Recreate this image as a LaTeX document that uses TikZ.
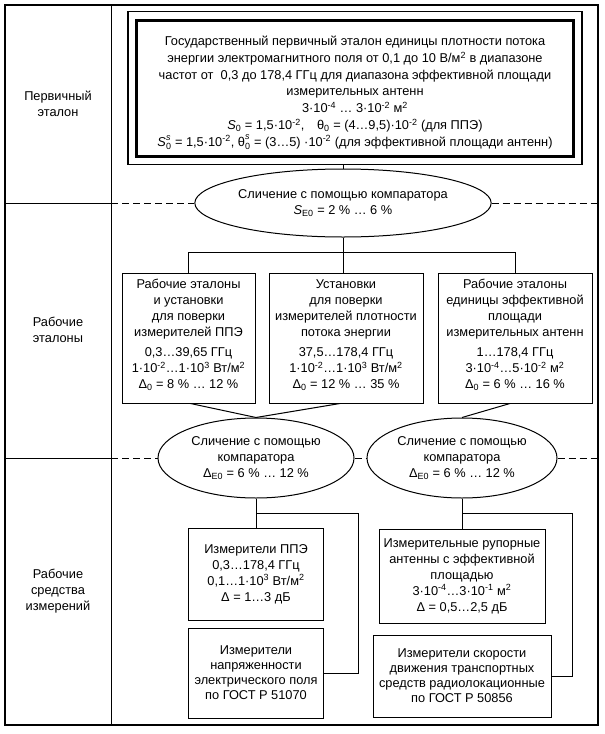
\documentclass[tikz,border=0pt]{standalone}
\usepackage{amsmath}
\usepackage{fontspec}
\setmainfont{Liberation Sans}
\usetikzlibrary{shapes.geometric}

\newcommand{\ten}[1]{10\textsuperscript{#1}}
\newcommand{\tailgap}{\rule[-8pt]{0pt}{8pt}}

\begin{document}
\begin{tikzpicture}[x=1pt, y=-1pt, line width=1pt,
    font=\fontsize{12.8}{16}\selectfont,
    unit/.style={draw, align=center, inner sep=1pt},
    cmp/.style={draw, ellipse, align=center, inner sep=0pt},
    level/.style={align=center},
    sepline/.style={dash pattern=on 7pt off 4pt}]
    \useasboundingbox (0,0) rectangle (605,734);

    % frame and column of levels
    \coordinate (frameNW) at (5,5);
    \coordinate (frameSE) at (598,725);
    \coordinate (colL) at (111,5);
    \draw[line width=1.2pt] (frameNW) rectangle (frameSE);
    \draw (colL) -- (colL |- frameSE);
    \node[level] (lvlP) at (58,104) {Первичный\\эталон};
    \node[level] (lvlW) at (58,330) {Рабочие\\эталоны};
    \node[level] (lvlM) at (58,591) {Рабочие\\средства\\измерений};

    % primary standard
    \node[unit, line width=3pt, minimum width=437, minimum height=136,
          font=\fontsize{12.8}{16.7}\selectfont] (prim) at (355,88)
        {\rule{0pt}{19pt}Государственный первичный эталон единицы плотности потока\\
         энергии электромагнитного поля от 0,1 до 10 В/м\textsuperscript{2} в диапазоне\\
         частот от\ \ 0,3 до 178,4 ГГц для диапазона эффективной площади\\
         измерительных антенн\\
         3·\ten{-4} … 3·\ten{-2} м\textsuperscript{2}\\
         \textit{S}\textsubscript{0} = 1,5·\ten{-2},\quad θ\textsubscript{0} = (4…9,5)·\ten{-2} (для ППЭ)\\
         $\textit{S}_{\text{0}}^{\textit{s}}$ = 1,5·\ten{-2}, $\text{θ}_{\text{0}}^{\textit{s}}$ = (3…5) ·\ten{-2} (для эффективной площади антенн)};
    \draw[line width=1.2pt] ([shift={(-7,-7)}]prim.north west) rectangle ([shift={(7,7)}]prim.south east);
    \coordinate (primS) at ([shift={(0,7)}]prim.south);

    % comparators
    \node[cmp, minimum width=280, minimum height=68] (cmpS) at (343,203)
        {Сличение с помощью компаратора\\\textit{S}\textsubscript{E0} = 2 \% … 6 \%};
    \node[cmp, minimum width=196, minimum height=80] (cmpL) at (256,458)
        {Сличение с помощью\\компаратора\\Δ\textsubscript{E0} = 6 \% … 12 \%};
    \node[cmp, minimum width=190, minimum height=80] (cmpR) at (462,458)
        {Сличение с помощью\\компаратора\\Δ\textsubscript{E0} = 6 \% … 12 \%};

    % working standards
    \node[unit, minimum width=133, minimum height=130] (wsA) at (188.5,338)
        {Рабочие эталоны\\и установки\\для поверки\\измерителей ППЭ\\[4pt]
         0,3…39,65 ГГц\\1·\ten{-2}…1·\ten{3} Вт/м\textsuperscript{2}\\
         Δ\textsubscript{0} = 8 \% … 12 \%\tailgap};
    \node[unit, minimum width=154, minimum height=130] (wsB) at (346,338)
        {Установки\\для поверки\\измерителей плотности\\потока энергии\\[4pt]
         37,5…178,4 ГГц\\1·\ten{-2}…1·\ten{3} Вт/м\textsuperscript{2}\\
         Δ\textsubscript{0} = 12 \% … 35 \%\tailgap};
    \node[unit, minimum width=154, minimum height=130] (wsC) at (515,338)
        {Рабочие эталоны\\единицы эффективной\\площади\\измерительных антенн\\[4pt]
         1…178,4 ГГц\\3·\ten{-4}…5·\ten{-2} м\textsuperscript{2}\\
         Δ\textsubscript{0} = 6 \% … 16 \%\tailgap};

    % working measuring instruments
    \node[unit, minimum width=135, minimum height=92] (mPPE) at (256,574)
        {Измерители ППЭ\\0,3…178,4 ГГц\\0,1…1·\ten{3} Вт/м\textsuperscript{2}\\Δ = 1…3 дБ};
    \node[unit, minimum width=135, minimum height=90, font=\fontsize{12.8}{15}\selectfont] (mFld) at (256,673)
        {Измерители\\напряженности\\электрического поля\\по ГОСТ Р 51070};
    \node[unit, minimum width=166, minimum height=94] (mHorn) at (462,576)
        {Измерительные рупорные\\антенны с эффективной\\площадью\\3·\ten{-4}…3·\ten{-1} м\textsuperscript{2}\\Δ = 0,5…2,5 дБ};
    \node[unit, minimum width=178, minimum height=82, font=\fontsize{12.8}{15}\selectfont] (mRad) at (462,676)
        {Измерители скорости\\движения транспортных\\средств радиолокационные\\по ГОСТ Р 50856};

    % level borders
    \draw (cmpS.west -| frameNW) -- (cmpS.west -| colL);
    \draw (cmpL.west -| frameNW) -- (cmpL.west -| colL);
    \draw[sepline] (cmpS.west -| colL) -- (cmpS.west);
    \draw[sepline] (cmpS.east) -- (cmpS.east -| frameSE);
    \draw[sepline] (cmpL.west -| colL) -- (cmpL.west);
    \draw[sepline] (cmpL.east) -- (cmpR.west);
    \draw[sepline] (cmpR.east) -- (cmpR.east -| frameSE);

    % connectors
    \draw (cmpS.north) -- (cmpS.north |- primS);
    \coordinate (fork) at ([shift={(0,15)}]cmpS.south);
    \draw (cmpS.south) -- (cmpS.south |- wsB.north);
    \draw (wsA.north) |- (fork) -| (wsC.north);
    \draw ([shift={(2,0)}]wsA.south) -- (cmpL.north) -- ([shift={(-6,0)}]wsB.south);
    \draw ([shift={(-5,0)}]wsC.south) -- (cmpR.north);
    \coordinate (jL) at ([shift={(0,15)}]cmpL.south);
    \coordinate (jR) at ([shift={(0,15)}]cmpR.south);
    \draw (cmpL.south) -- (mPPE.north);
    \draw (jL) -| ([shift={(34,0)}]mFld.east) -- (mFld.east);
    \draw (cmpR.south) -- (mHorn.north);
    \draw (jR) -| ([shift={(21,0)}]mRad.east) -- (mRad.east);
\end{tikzpicture}
\end{document}
